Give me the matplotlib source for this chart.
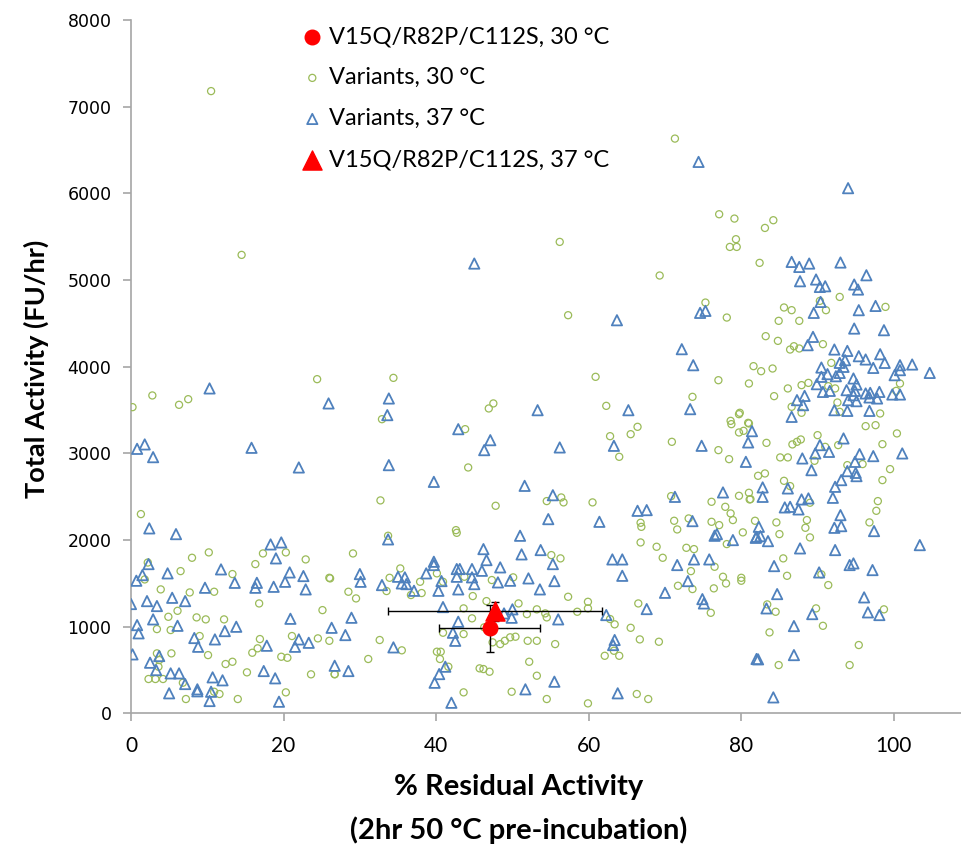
import matplotlib
matplotlib.use("Agg")
import matplotlib.pyplot as plt

# variantes a 30 °C (circulos verdes)
x30 = [2.2, 1.8, 8.0, 10.2, 6.5, 3.9, 7.7, 10.9, 13.3, 17.3, 20.3, 16.3, 22.9, 26.0, 16.8, 25.1, 6.1, 4.9,
       8.6, 9.8, 12.2, 3.4, 5.2, 9.0, 16.9, 21.1, 24.5, 26.0, 5.3, 10.1, 15.9, 16.6, 3.4, 3.7, 3.6, 13.3,
       12.4, 19.7, 20.5, 15.2, 23.6, 26.7, 2.3, 3.2, 4.2, 6.8, 7.2, 10.9, 11.6, 14.0, 20.3,
       0.2, 2.8, 6.3, 7.5, 24.4, 1.3, 10.5, 14.5,
       34.4, 32.9, 47.5, 46.9, 43.8, 44.2, 32.7, 47.8, 54.5, 42.6,
       33.7, 42.7, 29.1, 26.1, 28.5, 29.5, 35.3, 33.9, 33.5, 36.7, 37.9, 38.1, 40.1, 40.9, 43.7, 47.3, 50.1,
       44.8, 46.6, 50.8, 43.6, 44.7, 51.9, 53.2, 54.3, 40.9, 43.6, 46.3, 32.6, 48.4, 49.0, 49.7, 50.4, 52.0,
       53.2, 47.4, 35.5, 31.1, 40.1, 40.6, 40.5, 41.6, 45.7, 46.2, 47.0, 26.7, 53.2, 52.2, 43.6, 49.9, 54.5,
       60.9, 62.3, 65.5, 66.4, 62.8, 64.0, 70.9, 77.0, 81.0, 81.6, 73.6, 78.6, 79.7, 78.7, 79.7, 80.3, 80.9,
       77.0, 78.4, 82.2, 56.4, 56.7, 60.5, 70.8, 76.1, 77.9, 79.7, 81.0, 81.2, 78.6, 78.9, 66.8, 66.9, 71.2,
       73.1, 76.1, 77.1, 81.8,
       71.6, 66.8, 68.9, 69.7, 72.8, 73.8, 76.5, 78.1, 80.2, 73.4, 71.7, 73.6, 76.4, 77.6, 78.0, 80.0, 80.0,
       76.0, 55.1, 56.3, 57.3, 59.9, 59.9, 58.5, 54.5, 62.8, 63.4, 65.5, 66.5, 66.7, 69.2, 55.6, 62.1, 64.0,
       63.3, 59.9, 66.3, 67.8,
       83.1, 84.2, 82.4, 92.9, 98.9, 85.6, 86.6, 91.1, 90.3, 84.9, 87.6, 83.2, 84.8, 86.4, 86.9, 87.6, 90.7,
       82.6, 84.1, 84.3, 86.1, 87.9, 88.8, 91.8, 91.4, 92.3, 92.6, 100.8, 100.3, 98.2, 86.6, 87.9, 92.9, 79.8,
       81.0, 96.3, 97.6, 83.3, 86.7, 87.3, 87.8, 90.0, 92.7, 91.0, 89.6, 85.1, 86.1, 100.4, 98.5, 95.9, 93.9,
       99.5, 83.1, 85.6, 86.4, 81.1, 98.5, 89.0, 97.9, 97.7, 84.6, 88.6, 88.4, 96.8, 85.0, 89.0, 85.5, 86.0,
       90.5, 91.4, 83.4, 84.5, 89.8, 90.7, 83.7, 98.7, 95.4, 94.2, 84.9,
       71.3, 77.1, 79.1, 56.2, 79.3, 78.5, 79.4, 69.3, 57.3, 75.3, 78.1]
y30 = [1740, 1545, 1795, 1857, 1641, 1430, 1395, 1403, 1607, 1845, 1857, 1722, 1776, 1564, 1268, 1191, 1183, 1114,
       1107, 1084, 1084, 972, 961, 892, 857, 892, 865, 837, 692, 672, 699, 750, 692, 615, 538, 595,
       569, 653, 641, 473, 450, 450, 396, 396, 396, 353, 165, 249, 223, 165, 242,
       3533, 3668, 3560, 3625, 3856, 2299, 7180, 5290,
       3871, 3394, 3576, 3518, 3279, 2837, 2457, 2395, 2449, 2114,
       2049, 2083, 1845, 1557, 1403, 1326, 1672, 1564, 1411, 1365, 1518, 1388, 1615, 1518, 1576, 1538, 1569,
       1353, 1295, 1268, 1211, 1096, 1145, 1200, 1153, 930, 915, 992, 846, 799, 837, 877, 884, 837,
       837, 819, 727, 627, 711, 711, 627, 538, 519, 511, 480, 453, 434, 595, 242, 249, 165,
       3883, 3548, 3221, 3306, 3198, 2960, 3133, 3844, 3806, 4006, 3652, 3375, 3452, 3337, 3241, 3260, 3352,
       3037, 2933, 2741, 2491, 2434, 2434, 2506, 2441, 2383, 2510, 2545, 2472, 2307, 2230, 2199, 2152, 2222,
       2249, 2210, 2172, 2222,
       2122, 1972, 1922, 1795, 1910, 1895, 1691, 1953, 2088, 1641, 1472, 1434, 1442, 1576, 1499, 1564, 1530,
       1160, 1826, 1788, 1345, 1287, 1211, 1172, 1107, 1088, 1027, 987, 1268, 853, 826, 799, 664, 664,
       722, 115, 223, 165,
       5601, 5690, 5198, 4805, 4690, 4683, 4652, 4652, 4759, 4529, 4529, 4352, 4298, 4198, 4236, 4210, 4260,
       3948, 3979, 3660, 3749, 3787, 3813, 4044, 3775, 3749, 3587, 3806, 3721, 3460, 3537, 3468, 3479, 3468,
       3345, 3314, 3325, 3121, 3103, 3133, 3160, 3210, 3095, 3075, 2914, 2953, 2953, 3230, 3106, 2876, 2864,
       2818, 2768, 2683, 2622, 2468, 2691, 2430, 2449, 2337, 2203, 2230, 2141, 2203, 2068, 2030, 1788, 1587,
       1603, 1480, 1257, 1172, 1211, 1010, 934, 1200, 788, 557, 557,
       6632, 5759, 5709, 5440, 5471, 5382, 5382, 5052, 4594, 4740, 4567]

# variantes a 37 °C (triangulos azules)
x37 = [2.4, 5.9, 18.3, 19.7, 2.3, 19.0, 4.8, 11.8, 1.5, 0.7, 13.6, 16.5, 16.3, 20.8, 22.6, 20.2, 18.7, 22.9,
       9.7, 5.4, 7.1, 2.1, 3.4, 0.0, 2.9, 20.9, 0.8, 1.0, 6.1, 13.8, 12.3, 8.3, 11.0, 8.8, 17.8, 22.0, 23.3,
       21.5, 26.3, 0.2, 3.7, 2.5, 3.3, 5.2, 6.3, 7.1, 10.7, 12.0, 8.7, 8.7, 10.5, 5.0, 10.3, 17.4, 18.9, 19.4,
       26.7,
       10.3, 25.9, 0.8, 1.8, 2.9, 15.8, 22.0,
       33.8, 33.6, 42.9, 47.1, 46.3, 53.3, 33.8, 39.7, 51.6, 54.7,
       33.7, 51.0, 46.2, 51.2, 53.7, 46.6, 39.7, 39.7, 30.0, 30.1, 32.9, 35.0, 35.9, 35.5, 36.1, 37.1, 38.7,
       40.7, 42.7, 43.1, 44.7, 46.0, 48.4, 42.7, 44.7, 45.0, 42.9, 40.3, 48.1, 49.7, 52.1, 53.6, 40.9, 50.0,
       48.9, 49.9, 28.9, 28.1, 42.9, 42.2, 42.5, 34.4, 28.5, 41.2, 40.4, 39.8, 51.7, 42.0,
       72.2, 73.7, 65.2, 73.3, 56.2, 63.3, 74.8, 81.4, 80.9, 80.6, 55.3, 71.3, 77.6, 66.4, 67.6, 61.4, 73.6,
       82.3,
       55.3, 63.1, 64.4, 64.4, 55.5, 71.6, 73.8, 75.8, 76.5, 76.8, 78.9, 82.0, 73.0, 70.0, 74.9, 75.1, 67.6,
       56.0, 62.3, 63.4, 63.2, 82.0, 55.5, 63.8,
       86.6, 87.6, 88.9, 93.0, 96.4, 87.7, 89.8, 90.3, 91.0, 94.8, 95.3, 90.4, 89.5, 95.4, 97.6, 94.8, 98.7,
       89.4, 88.7, 92.2, 93.9, 93.6, 95.4, 96.3, 98.2, 98.8, 97.3, 100.8, 100.8, 102.4, 104.7, 100.1, 90.5,
       92.9, 93.4, 91.3, 92.4, 92.9, 90.5, 94.7, 89.9, 91.6, 90.7, 95.1, 93.8, 94.9, 96.3, 96.9, 98.1, 96.8,
       97.8, 99.8, 100.8, 94.0, 95.1, 94.7, 88.3, 87.3, 88.1, 86.6, 92.2, 93.9, 96.8,
       93.4, 90.3, 89.7, 91.5, 88.0, 89.2, 95.5, 94.9, 97.3, 101.1, 93.9, 95.0, 95.1, 93.1, 92.3, 82.8, 82.8,
       86.1, 92.0, 87.9, 88.8, 85.7, 86.4, 87.5, 93.0, 81.9, 82.5, 83.5, 92.2, 93.1, 97.4, 103.4, 87.7, 92.3,
       84.3, 94.2, 94.7, 90.2, 97.2, 84.7, 83.3, 89.3, 96.1, 96.6, 98.1, 86.9, 82.2, 86.9, 84.2,
       74.4, 63.7, 74.6, 75.3, 45.0, 94.0]
y37 = [2134, 2068, 1949, 1972, 1722, 1788, 1615, 1661, 1595, 1530, 1506, 1506, 1449, 1626, 1584, 1518, 1460, 1430,
       1449, 1333, 1295, 1295, 1238, 1261, 1084, 1091, 1018, 923, 1010, 999, 949, 869, 853, 768, 780, 853, 814,
       768, 987, 680, 661, 584, 499, 461, 461, 338, 415, 381, 277, 254, 249, 231, 142, 488, 404, 134,
       549,
       3749, 3576, 3052, 3103, 2956, 3064, 2837,
       3633, 3441, 3279, 3152, 3037, 3498, 2864, 2671, 2625, 2241,
       2007, 2049, 1895, 1834, 1884, 1768, 1749, 1711, 1607, 1518, 1480, 1576, 1569, 1499, 1491, 1414, 1615,
       1526, 1665, 1665, 1665, 1645, 1684, 1576, 1569, 1491, 1430, 1414, 1511, 1530, 1557, 1430, 1226, 1200,
       1153, 1103, 1103, 903, 1057, 930, 837, 761, 488, 538, 453, 353, 277, 122,
       4202, 4017, 3498, 3510, 3068, 3087, 3087, 3256, 3126, 2902, 2517, 2498, 2549, 2337, 2345, 2210, 2218,
       2152,
       1722, 1776, 1776, 1587, 1526, 1711, 1776, 1776, 2049, 2068, 1999, 2037, 1526, 1391, 1318, 1268, 1203,
       1084, 1134, 846, 788, 627, 365, 231,
       5209, 5151, 5190, 5202, 5055, 4986, 5006, 4920, 4928, 4948, 4890, 4747, 4621, 4652, 4701, 4440, 4421,
       4344, 4248, 4198, 4182, 4075, 4121, 4083, 4144, 4044, 3986, 4017, 3960, 4025, 3928, 3902, 3990,
       4044, 3998, 3914, 3890, 3928, 3883, 3864, 3798, 3721, 3709, 3794, 3729, 3721, 3691, 3698, 3709, 3645,
       3633, 3679, 3679, 3614, 3602, 3671, 3663, 3614, 3556, 3421, 3498, 3490, 3490,
       3172, 3095, 2999, 3017, 2941, 2806, 2991, 2902, 2968, 2999, 2795, 2775, 2737, 2691, 2614, 2607, 2498,
       2595, 2487, 2468, 2480, 2376, 2383, 2353, 2287, 2025, 2045, 1987, 2141, 2160, 2103, 1941, 1903, 1884,
       1699, 1711, 1730, 1626, 1653, 1376, 1211, 1145, 1338, 1165, 1134, 1007, 623, 672, 184,
       6363, 4536, 4621, 4644, 5190, 6060]

# V15Q/R82P/C112S: media y error
mut_x = [47.0, 47.7]
mut_y = [980, 1180]
mut_xerr = [6.6, 14.0]
mut_yerr = [270, 110]

verde = '#9BBB59'
azul = '#4F81BD'

fig = plt.figure(figsize=(9.61, 8.49), dpi=100)
ax = fig.add_axes([0.1363, 0.1598, 0.8637, 0.8166])

ax.errorbar(mut_x[0], mut_y[0], xerr=mut_xerr[0], yerr=mut_yerr[0], fmt='none',
            ecolor='black', elinewidth=1, capsize=3, zorder=4)
ax.errorbar(mut_x[1], mut_y[1], xerr=mut_xerr[1], yerr=mut_yerr[1], fmt='none',
            ecolor='black', elinewidth=1, capsize=3, zorder=4)

h1 = ax.scatter(mut_x[0], mut_y[0], s=110, marker='o', color='red', zorder=6,
                label='V15Q/R82P/C112S, 30 °C')
h2 = ax.scatter(x30, y30, s=26, marker='o', facecolors='none', edgecolors=verde,
                linewidths=0.9, zorder=3, label='Variants, 30 °C')
h3 = ax.scatter(x37, y37, s=55, marker='^', facecolors='none', edgecolors=azul,
                linewidths=1.3, zorder=3, label='Variants, 37 °C')
h4 = ax.scatter(mut_x[1], mut_y[1], s=190, marker='^', color='red', zorder=5,
                label='V15Q/R82P/C112S, 37 °C')

ax.set_xlim(0, 108.8)
ax.set_ylim(0, 8000)
ax.set_xticks([0, 20, 40, 60, 80, 100])
ax.set_yticks(range(0, 8001, 1000))

for s in ['top', 'right']:
    ax.spines[s].set_visible(False)
for s in ['left', 'bottom']:
    ax.spines[s].set_color('#A6A6A6')
    ax.spines[s].set_linewidth(1.2)
ax.tick_params(axis='both', direction='out', length=6, width=1.2, color='#A6A6A6')
ax.tick_params(axis='y', labelsize=12.5, pad=8)
ax.tick_params(axis='x', labelsize=15, pad=10)
for t in ax.get_xticklabels():
    t.set_fontfamily('Lato')

fig.text(0.038, 0.565, 'Total Activity (FU/hr)', rotation=90, ha='center', va='center',
         fontsize=19.5, fontweight='bold', family='Lato')
fig.text(0.54, 0.073, '% Residual Activity', ha='center', va='center',
         fontsize=21, fontweight='bold', family='Lato')
fig.text(0.54, 0.022, '(2hr 50 °C pre-incubation)', ha='center', va='center',
         fontsize=21, fontweight='bold', family='Lato')

leg = ax.legend(handles=[h1, h2, h3, h4], loc='upper left', bbox_to_anchor=(0.19, 1.005),
                frameon=False, prop={'family': 'Lato', 'size': 17},
                handletextpad=0.1, labelspacing=0.85, borderaxespad=0.0, handlelength=1.2)

fig.savefig('out.png', dpi=100)
